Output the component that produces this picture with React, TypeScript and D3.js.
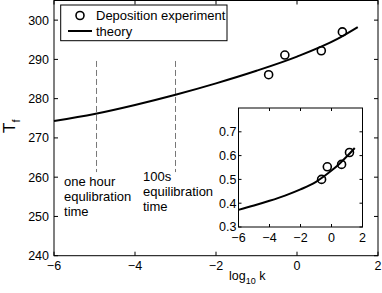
import React from 'react';
import * as d3 from 'd3';

// measured deposition data (log10 k, T_f)
const expLogK = [-0.7, -0.3, 0.6, 1.12];
const expTf = [286.1, 291.1, 292.2, 297.0];

// theory curve
const theoryLogK = [-6, -5, -4, -3, -2, -1, 0, 1, 1.5];
const theoryTf = [274.3, 276.1, 278.4, 281.0, 283.9, 287.1, 290.7, 295.2, 298.2];

// inset (normalized)
const insetExpLogK = [-0.64, -0.27, 0.65, 1.16];
const insetExpVal = [0.5, 0.553, 0.563, 0.613];
const insetTheoryLogK = [-6, -5, -4, -3, -2, -1, -0.5, 0, 0.5, 1, 1.5];
const insetTheoryVal = [0.372, 0.39, 0.41, 0.432, 0.458, 0.49, 0.512, 0.537, 0.565, 0.597, 0.632];

const xTicks = [-6, -4, -2, 0, 2];
const yTicks = [240, 250, 260, 270, 280, 290, 300];
const insetYTicks = [0.3, 0.4, 0.5, 0.6, 0.7];

const markers = [
  { logK: -4.95, lines: ['one hour', 'equlibration', 'time'], dy: 14 },
  { logK: -3.0, lines: ['100s', 'equilibration', 'time'], dy: 9 },
];

const FONT = 'Liberation Sans, Arial, Helvetica, sans-serif';
const minus = (v: number) => (v < 0 ? '\u2212' + Math.abs(v) : String(v));

const App = () => {
  const W = 382, H = 293;
  const x = d3.scaleLinear().domain([-6, 2]).range([54, 378]);
  const y = d3.scaleLinear().domain([240, 305]).range([255.7, 0.5]);
  const ix = d3.scaleLinear().domain([-6, 2]).range([238.5, 362.5]);
  const iy = d3.scaleLinear().domain([0.3, 0.8]).range([227, 108]);

  const line = d3.line<number>()
    .x((_, i) => x(theoryLogK[i]))
    .y(d => y(d))
    .curve(d3.curveMonotoneX);
  const insetLine = d3.line<number>()
    .x((_, i) => ix(insetTheoryLogK[i]))
    .y(d => iy(d))
    .curve(d3.curveMonotoneX);

  const [x0, x1] = x.range();
  const [y0, y1] = y.range();
  const [ix0, ix1] = ix.range();
  const [iy0, iy1] = iy.range();
  const tk = 4;

  return (
    <svg width={W} height={H} style={{ position: 'absolute', left: 0, top: 0 }} fontFamily={FONT}>
      <rect width={W} height={H} fill="#fff" />

      {/* dashed equilibration markers */}
      {markers.map((m, i) => (
        <g key={i}>
          <line x1={x(m.logK)} x2={x(m.logK)} y1={y(289.6)} y2={y(261.3)}
            stroke="#777" strokeWidth={1} strokeDasharray="6,3" />
          <text x={x(m.logK) - 32.5} y={y(261.3) + m.dy} fontSize={13} fill="#000">
            {m.lines.map((t, j) => (
              <tspan key={j} x={x(m.logK) - 32.5} dy={j === 0 ? 0 : 15}>{t}</tspan>
            ))}
          </text>
        </g>
      ))}

      <path d={line(theoryTf) || ''} fill="none" stroke="#000" strokeWidth={2} />
      {expTf.map((v, i) => (
        <circle key={i} cx={x(expLogK[i])} cy={y(v)} r={4} fill="none" stroke="#000" strokeWidth={1.6} />
      ))}

      {/* main axes box + ticks */}
      <rect x={x0} y={y1} width={x1 - x0} height={y0 - y1} fill="none" stroke="#000" strokeWidth={1} />
      {xTicks.map(t => (
        <g key={t}>
          <line x1={x(t)} x2={x(t)} y1={y0} y2={y0 - tk} stroke="#000" />
          <line x1={x(t)} x2={x(t)} y1={y1} y2={y1 + tk} stroke="#000" />
          <text x={x(t)} y={y0 + 14.5} fontSize={12.5} textAnchor="middle">{minus(t)}</text>
        </g>
      ))}
      {yTicks.map(t => (
        <g key={t}>
          <line x1={x0} x2={x0 + tk} y1={y(t)} y2={y(t)} stroke="#000" />
          <line x1={x1} x2={x1 - tk} y1={y(t)} y2={y(t)} stroke="#000" />
          <text x={x0 - 5} y={y(t) + 4.5} fontSize={12.5} textAnchor="end">{t}</text>
        </g>
      ))}

      {/* axis labels */}
      <text x={229} y={280} fontSize={12.5}>
        log<tspan fontSize={9} dy={4}>10</tspan><tspan dy={-4}> k</tspan>
      </text>
      <text transform="translate(15,133) rotate(-90)" fontSize={17}>
        T<tspan fontSize={11} dy={5}>f</tspan>
      </text>

      {/* legend */}
      <rect x={60.7} y={5} width={166.3} height={35.7} fill="#fff" stroke="#000" strokeWidth={1} />
      <circle cx={80} cy={15.5} r={4} fill="none" stroke="#000" strokeWidth={1.6} />
      <text x={96} y={20} fontSize={13}>Deposition experiment</text>
      <line x1={68} x2={92} y1={31} y2={31} stroke="#000" strokeWidth={2} />
      <text x={96} y={35.5} fontSize={13}>theory</text>

      {/* inset */}
      <rect x={ix0} y={iy1} width={ix1 - ix0} height={iy0 - iy1} fill="#fff" stroke="#000" strokeWidth={1} />
      <path d={insetLine(insetTheoryVal) || ''} fill="none" stroke="#000" strokeWidth={2} />
      {insetExpVal.map((v, i) => (
        <circle key={i} cx={ix(insetExpLogK[i])} cy={iy(v)} r={4} fill="none" stroke="#000" strokeWidth={1.6} />
      ))}
      {xTicks.map(t => (
        <g key={t}>
          <line x1={ix(t)} x2={ix(t)} y1={iy0} y2={iy0 - 3} stroke="#000" />
          <line x1={ix(t)} x2={ix(t)} y1={iy1} y2={iy1 + 3} stroke="#000" />
          <text x={ix(t)} y={iy0 + 14.5} fontSize={12.5} textAnchor="middle">{minus(t)}</text>
        </g>
      ))}
      {insetYTicks.map(t => (
        <g key={t}>
          <line x1={ix0} x2={ix0 + 3} y1={iy(t)} y2={iy(t)} stroke="#000" />
          <line x1={ix1} x2={ix1 - 3} y1={iy(t)} y2={iy(t)} stroke="#000" />
          <text x={ix0 - 2} y={iy(t) + (t === 0.3 ? 3.5 : 4.5)} fontSize={12.5} textAnchor="end">{t.toFixed(1)}</text>
        </g>
      ))}
    </svg>
  );
};

export default App;
